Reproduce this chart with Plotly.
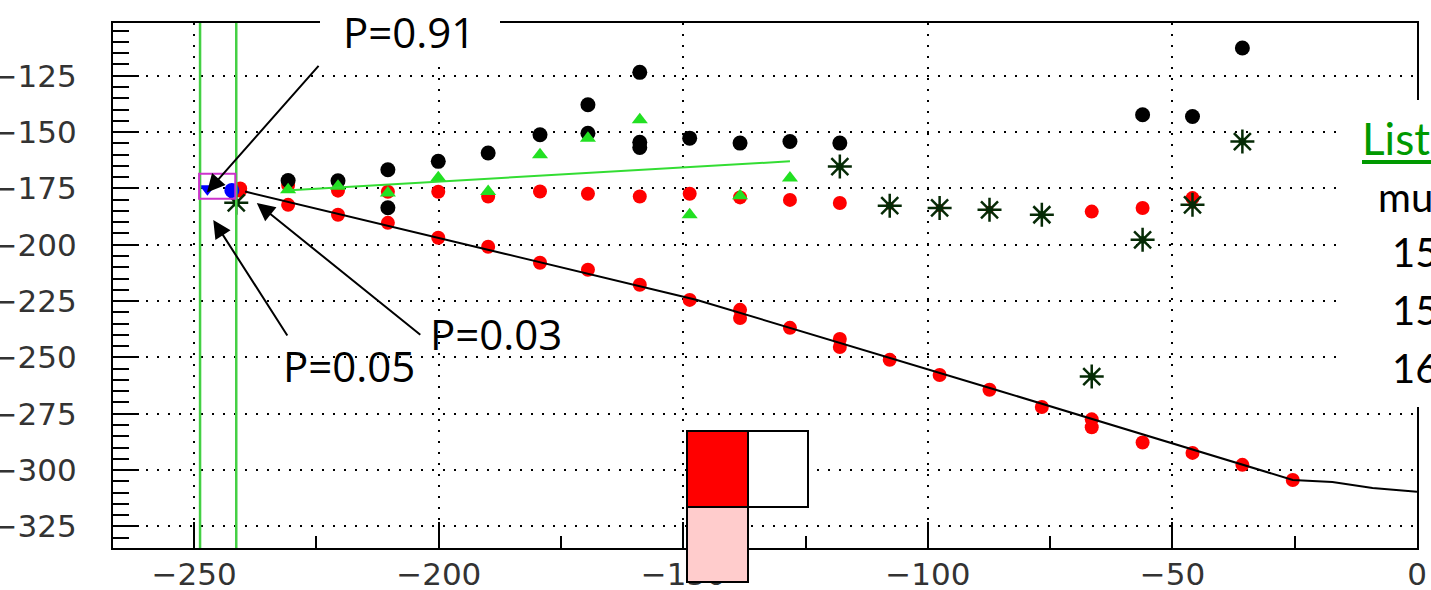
import plotly.graph_objects as go

# ---------------- data ----------------
red_low_x = [-240.6, -230.8, -220.6, -210.4, -200.1, -189.9, -179.3, -169.5, -158.9, -148.7,
             -138.4, -138.4, -128.2, -118.0, -118.0, -107.8, -97.6, -87.4, -76.7, -66.5, -66.5,
             -56.1, -45.9, -35.7, -25.4]
red_low_y = [-176.0, -182.3, -186.7, -190.3, -196.9, -200.9, -208.0, -211.1, -217.8, -224.5,
             -228.9, -232.5, -236.9, -241.8, -245.4, -251.1, -257.8, -264.4, -272.0, -277.5, -281.0,
             -287.8, -292.4, -297.7, -304.4]

fit_x = [-239.6, -187.5, -147.2, -85.3, -25.4, -17.3, -9.1, 0.0]
fit_y = [-176.4, -203.6, -224.5, -264.9, -304.4, -305.3, -308.0, -309.6]

green_fit_x = [-230.4, -128.2]
green_fit_y = [-175.8, -163.0]

red_up_x = [-240.6, -230.8, -220.6, -210.4, -200.1, -189.9, -179.3, -169.5, -158.9, -148.7,
            -138.4, -128.2, -118.0, -66.5, -56.1, -45.9]
red_up_y = [-175.0, -173.5, -176.0, -176.5, -176.5, -178.6, -176.4, -177.4, -178.6, -177.4,
            -179.0, -180.1, -181.5, -185.3, -183.7, -179.3]

black_x = [-230.8, -220.6, -210.4, -210.4, -200.1, -189.9, -179.3, -169.5, -169.5, -158.9,
           -158.9, -158.9, -148.7, -138.4, -128.2, -118.0, -56.1, -45.9, -35.7]
black_y = [-171.5, -171.6, -166.7, -183.6, -163.0, -159.3, -151.2, -137.9, -150.5, -123.5,
           -154.5, -156.8, -152.7, -154.9, -154.2, -154.9, -142.3, -143.1, -112.7]

tri_x = [-230.8, -220.6, -210.4, -200.1, -189.9, -179.3, -169.5, -158.9, -148.7, -138.4, -128.2]
tri_y = [-175.6, -174.0, -177.0, -170.3, -176.4, -160.1, -152.7, -144.5, -186.7, -178.3, -170.4]

star_x = [-241.4, -118.0, -107.8, -97.6, -87.4, -76.7, -66.5, -56.1, -45.9, -35.7]
star_y = [-181.4, -165.3, -182.7, -183.7, -184.5, -186.7, -258.5, -197.8, -182.3, -154.2]
star_center = ["#33aa33", "#33aa33", "#cc0000", "#cc0000", "#cc0000", "#33aa33",
               "#33aa33", "#33aa33", "#cc0000", "#33aa33"]

blue_tri_x = [-247.3]
blue_tri_y = [-175.2]
blue_dot_x = [-242.3]
blue_dot_y = [-175.9]

vline_x = [-248.8, -241.4]
box_x = [-249.0, -241.6]
box_y = [-179.6, -168.5]

# arrows: tip (data) and tail offset (pixels)
arrow_tip_x = [-247.4, -246.1, -237.2]
arrow_tip_y = [-176.8, -189.0, -181.5]
arrow_ax = [113, 75, 165]
arrow_ay = [-128, 117, 133]

p_labels = ["P=0.91", "P=0.05", "P=0.03"]
p_label_px = [(408.5, 31.5), (349, 365.5), (495.5, 333.5)]

side_lines = ["mu", "15", "15", "16"]
side_px = [(1376, 197), (1390, 252), (1390, 310), (1390, 368)]

x_range = [-266.6, 0]
y_range = [-334.6, -101.6]

# ---------------- figure ----------------
W, H = 1431, 590
ML, MR, MT, MB = 113, 14, 23, 42
PW, PH = W - ML - MR, H - MT - MB


def pxx(x):
    return (x - ML) / PW


def pxy(y):
    return (H - MB - y) / PH


fig = go.Figure()

fig.add_trace(go.Scatter(x=red_low_x, y=red_low_y, mode="markers",
                         marker=dict(symbol="circle", size=14, color="#ff0000"), showlegend=False))
fig.add_trace(go.Scatter(x=red_up_x, y=red_up_y, mode="markers",
                         marker=dict(symbol="circle", size=14, color="#ff0000"), showlegend=False))
fig.add_trace(go.Scatter(x=black_x, y=black_y, mode="markers",
                         marker=dict(symbol="circle", size=15, color="#000000"), showlegend=False))
fig.add_trace(go.Scatter(x=tri_x, y=tri_y, mode="markers",
                         marker=dict(symbol="triangle-up", size=14, color="#22e022"), showlegend=False))
fig.add_trace(go.Scatter(x=star_x, y=star_y, mode="markers",
                         marker=dict(symbol="circle", size=8, color=star_center), showlegend=False))
fig.add_trace(go.Scatter(x=star_x, y=star_y, mode="markers",
                         marker=dict(symbol="asterisk-open", size=20, color="#062a06",
                                     line=dict(color="#062a06", width=2.5)), showlegend=False))
fig.add_trace(go.Scatter(x=fit_x, y=fit_y, mode="lines",
                         line=dict(color="black", width=2), showlegend=False))
fig.add_trace(go.Scatter(x=green_fit_x, y=green_fit_y, mode="lines",
                         line=dict(color="#33dd33", width=2), showlegend=False))
fig.add_trace(go.Scatter(x=blue_tri_x, y=blue_tri_y, mode="markers",
                         marker=dict(symbol="triangle-down", size=14, color="#0000ff"), showlegend=False))
fig.add_trace(go.Scatter(x=blue_dot_x, y=blue_dot_y, mode="markers",
                         marker=dict(symbol="circle", size=15, color="#0000ff"), showlegend=False))

shapes = []
for vx in vline_x:
    shapes.append(dict(type="line", xref="x", yref="paper", x0=vx, x1=vx, y0=0, y1=1,
                       line=dict(color="#44d044", width=2.5), layer="above"))
shapes.append(dict(type="rect", xref="x", yref="y", x0=box_x[0], x1=box_x[1],
                   y0=box_y[0], y1=box_y[1], line=dict(color="#cc33cc", width=2), layer="above"))
# white cover behind top label
shapes.append(dict(type="rect", xref="paper", yref="paper", x0=pxx(320), x1=pxx(500),
                   y0=pxy(58), y1=pxy(-10), fillcolor="white", line=dict(width=0), layer="above"))
# white side box
shapes.append(dict(type="rect", xref="paper", yref="paper", x0=pxx(1341), x1=pxx(1445),
                   y0=pxy(407), y1=pxy(100), fillcolor="white", line=dict(width=0), layer="above"))
shapes.append(dict(type="line", xref="paper", yref="paper", x0=pxx(1362), x1=pxx(1445),
                   y0=pxy(162), y1=pxy(162), line=dict(color="#009900", width=4), layer="above"))
# colour squares
shapes.append(dict(type="rect", xref="paper", yref="paper", x0=pxx(687), x1=pxx(748),
                   y0=pxy(507), y1=pxy(431), fillcolor="#ff0000", line=dict(color="black", width=2),
                   layer="above"))
shapes.append(dict(type="rect", xref="paper", yref="paper", x0=pxx(748), x1=pxx(808),
                   y0=pxy(507), y1=pxy(431), fillcolor="white", line=dict(color="black", width=2),
                   layer="above"))
shapes.append(dict(type="rect", xref="paper", yref="paper", x0=pxx(687), x1=pxx(748),
                   y0=pxy(582), y1=pxy(507), fillcolor="#ffcccc", line=dict(color="black", width=2),
                   layer="above"))

annotations = []
for tx, ty, ax, ay in zip(arrow_tip_x, arrow_tip_y, arrow_ax, arrow_ay):
    annotations.append(dict(x=tx, y=ty, xref="x", yref="y", ax=ax, ay=ay, text="",
                            showarrow=True, arrowhead=2, arrowsize=1.8, arrowwidth=2,
                            arrowcolor="black"))
for lab, (lx, ly) in zip(p_labels, p_label_px):
    annotations.append(dict(x=pxx(lx), y=pxy(ly), xref="paper", yref="paper", text=lab,
                            showarrow=False, xanchor="center", yanchor="middle",
                            font=dict(family="Open Sans", size=42, color="black")))
annotations.append(dict(x=pxx(1360), y=pxy(138), xref="paper", yref="paper", text="List",
                        showarrow=False, xanchor="left", yanchor="middle",
                        font=dict(family="Lato", size=44, color="#009900")))
for lab, (lx, ly) in zip(side_lines, side_px):
    annotations.append(dict(x=pxx(lx), y=pxy(ly), xref="paper", yref="paper", text=lab,
                            showarrow=False, xanchor="left", yanchor="middle",
                            font=dict(family="Lato", size=40, color="black")))

axis_common = dict(showline=True, mirror=True, linecolor="black", linewidth=2,
                   ticks="inside", tickcolor="black", tickwidth=2, ticklen=26,
                   showgrid=True, gridcolor="black", gridwidth=2, griddash="2px,9px",
                   zeroline=False, automargin=False,
                   tickfont=dict(family="DejaVu Sans", size=31, color="#333333"))

fig.update_xaxes(range=x_range, tickmode="linear", tick0=0, dtick=50,
                 minor=dict(tick0=0, dtick=25, ticks="inside", ticklen=12, tickwidth=2,
                            tickcolor="black", showgrid=False),
                 ticklabelstandoff=-2, **axis_common)
fig.update_yaxes(range=y_range, tickmode="linear", tick0=0, dtick=25,
                 minor=dict(tick0=0, dtick=5, ticks="inside", ticklen=16, tickwidth=2,
                            tickcolor="black", showgrid=False),
                 ticklabelstandoff=28, **axis_common)

fig.update_layout(width=W, height=H, autosize=False,
                  margin=dict(l=ML, r=MR, t=MT, b=MB),
                  paper_bgcolor="white", plot_bgcolor="white",
                  shapes=shapes, annotations=annotations, showlegend=False)

fig.write_html("out.html", config={"displayModeBar": False, "staticPlot": True},
               post_script="document.body.style.margin='0';"
                           "document.body.style.overflow='hidden';")
